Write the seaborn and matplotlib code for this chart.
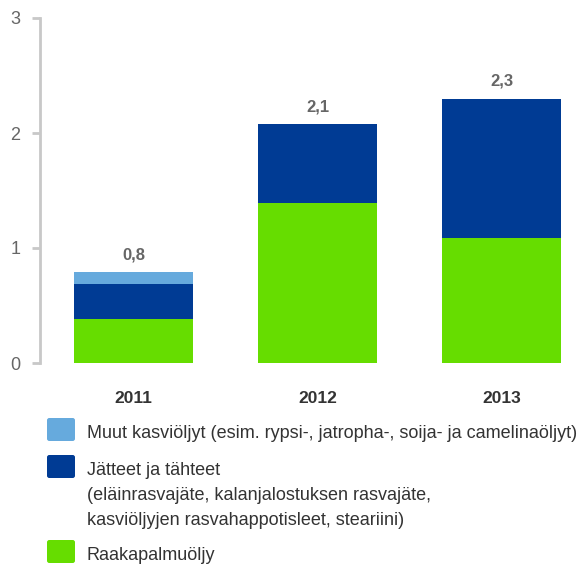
import matplotlib
matplotlib.use("Agg")
import matplotlib.pyplot as plt
import numpy as np
import seaborn as sns
from matplotlib.patches import FancyBboxPatch

# data (Mt)
years = ["2011", "2012", "2013"]
palm_oil = [0.38, 1.39, 1.09]
waste_residues = [0.31, 0.69, 1.21]
other_veg_oils = [0.10, 0.0, 0.0]
total_labels = ["0,8", "2,1", "2,3"]

legend_labels = [
    "Muut kasviöljyt (esim. rypsi-, jatropha-, soija- ja camelinaöljyt)",
    "Jätteet ja tähteet\n(eläinrasvajäte, kalanjalostuksen rasvajäte,\nkasviöljyjen rasvahappotisleet, steariini)",
    "Raakapalmuöljy",
]

C_LIGHT = "#66aadd"
C_DARK = "#003b94"
C_GREEN = "#66dd00"
GREY_TXT = "#666666"
AXIS_GREY = "#c8c8c8"

sns.set_theme(style="white")
plt.rcParams["font.family"] = ["Liberation Sans", "DejaVu Sans"]

W, H = 578, 568
fig = plt.figure(figsize=(W / 100, H / 100), dpi=100)


def fx(px):
    return px / W


def fy(py):
    return 1 - py / H


ax = fig.add_axes([fx(40), fy(363), fx(578) - fx(40), fy(18) - fy(363)])

# stacked bars: draw cumulative totals from the top layer down
cum_dark = np.array(palm_oil) + np.array(waste_residues)
cum_light = cum_dark + np.array(other_veg_oils)
for vals, col in [(cum_light, C_LIGHT), (cum_dark, C_DARK), (palm_oil, C_GREEN)]:
    sns.barplot(x=years, y=vals, color=col, saturation=1, width=0.647,
                linewidth=0, ax=ax)

for i, (tot, lab) in enumerate(zip(cum_light, total_labels)):
    ax.annotate(lab, (i, tot), xytext=(0, 9), textcoords="offset points",
                ha="center", va="baseline", fontsize=12, fontweight="bold",
                color=GREY_TXT)

ax.set_xlim(-0.51, 2.416)
ax.set_ylim(0, 3)
ax.set_yticks([0, 1, 2, 3])
ax.set_xlabel("")
ax.set_ylabel("")
sns.despine(ax=ax, bottom=True)
ax.spines["left"].set_color(AXIS_GREY)
ax.spines["left"].set_linewidth(2)
ax.tick_params(axis="y", length=6, width=2, color=AXIS_GREY, pad=8,
               labelsize=13, labelcolor=GREY_TXT, left=True)
ax.tick_params(axis="x", length=0, pad=20, labelsize=12.5, labelcolor="#333333")
for t in ax.get_xticklabels():
    t.set_fontweight("bold")

# legend, drawn by hand so the square sits on the first line
legend_rows = [(418, C_LIGHT), (455, C_DARK), (540, C_GREEN)]
for (top, col), lab in zip(legend_rows, legend_labels):
    fig.patches.append(FancyBboxPatch(
        (fx(47), fy(top + 23)), fx(28), fy(top) - fy(top + 23),
        boxstyle="round,pad=0,rounding_size=0.004", transform=fig.transFigure,
        facecolor=col, edgecolor="none"))
    for k, line in enumerate(lab.split("\n")):
        fig.text(fx(87), fy(top + 20 + 25 * k), line, ha="left", va="baseline",
                 fontsize=13, color="#333333")

fig.savefig("out.png", dpi=100)
